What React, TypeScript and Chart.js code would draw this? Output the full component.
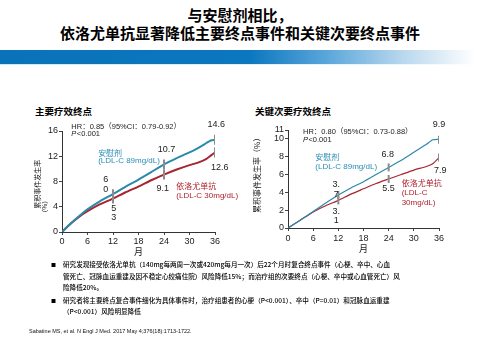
import { useEffect, useRef } from "react";
import { Chart, registerables } from "chart.js";
Chart.register(...registerables);

// ---------- data ----------
const monthsA = [0, 2, 4, 6, 9, 12, 15, 18, 21, 24, 27, 30, 32, 34, 35, 36];
const placeboA = [0, 1.3, 2.5, 3.6, 4.9, 6.0, 7.2, 8.3, 9.5, 10.7, 11.7, 12.6, 13.3, 14.1, 14.5, 14.6];
const evoloA = [0, 1.3, 2.4, 3.3, 4.4, 5.3, 6.3, 7.2, 8.2, 9.1, 9.9, 10.6, 11.0, 11.6, 12.1, 12.6];

const monthsB = [0, 3, 6, 9, 12, 15, 18, 21, 24, 27, 30, 33, 34.5, 36];
const placeboB = [0, 0.9, 1.85, 2.8, 3.7, 4.5, 5.2, 6.0, 6.8, 7.6, 8.5, 9.4, 9.9, 9.95];
const evoloB = [0, 0.9, 1.8, 2.5, 3.1, 3.8, 4.4, 5.0, 5.5, 6.0, 6.5, 6.9, 7.2, 7.9];

const markMonths = [12, 24, 36];
const markPlaceboA = [6.0, 10.7, 14.6];
const markEvoloA = [5.3, 9.1, 12.6];
const markPlaceboB = [3.7, 6.8, 9.9];
const markEvoloB = [3.1, 5.5, 7.9];

const xTicks = [0, 6, 12, 18, 24, 30, 36];
const yTicksA = [0, 2, 4, 6, 8, 10, 12, 14, 16];
const yTicksB = [0, 2, 4, 6, 8, 10, 11];

const TEAL = "#2b89aa";
const RED = "#a82530";
const TEAL_TXT = "#2a8db3";
const RED_TXT = "#ad1f2b";
const NARROW = '"Liberation Sans Narrow", "Liberation Sans", "Noto Sans CJK SC", sans-serif';
const CJK = '"Noto Sans CJK SC", "Liberation Sans", sans-serif';

type Ann = { x: number; y: number; text: string; color?: string; align?: CanvasTextAlign; size?: number; pre?: string };
type VTitle = { px: number; y: number; text: string; size: number };

const annsA: Ann[] = [
  { x: 2.2, y: 16.65, text: "HR：0.85（95%CI：0.79-0.92）", align: "left", size: 7.5 },
  { x: 2.2, y: 15.5, text: "<0.001", pre: "P", align: "left", size: 7.5 },
  { x: 36.3, y: 16.96, text: String(markPlaceboA[2]) },
  { x: 24.6, y: 13.0, text: String(markPlaceboA[1]) },
  { x: 37.1, y: 10.2, text: String(markEvoloA[2]) },
  { x: 23.7, y: 6.95, text: String(markEvoloA[1]) },
  { x: 10.3, y: 8.33, text: "6" },
  { x: 10.3, y: 6.74, text: "0" },
  { x: 12.2, y: 3.72, text: "5" },
  { x: 12.2, y: 2.29, text: "3" },
  { x: 8.5, y: 12.46, text: "安慰剂", color: TEAL_TXT, align: "left", size: 8 },
  { x: 8.5, y: 11.24, text: "(LDL-C 89mg/dL)", color: TEAL_TXT, align: "left", size: 8 },
  { x: 26.9, y: 7.15, text: "依洛尤单抗", color: RED_TXT, align: "left", size: 8 },
  { x: 26.9, y: 5.72, text: "(LDL-C 30mg/dL)", color: RED_TXT, align: "left", size: 8 },
];
const vTitlesA: VTitle[] = [
  { px: 17.5, y: 7.58, text: "累积事件发生率", size: 7 },
  { px: 25, y: 4.0, text: "（%）", size: 6.5 },
];

const annsB: Ann[] = [
  { x: 3.57, y: 10.82, text: "HR：0.80（95%CI：0.73-0.88）", align: "left", size: 7.5 },
  { x: 3.57, y: 9.89, text: "<0.001", pre: "P", align: "left", size: 7.5 },
  { x: 36.0, y: 11.65, text: String(markPlaceboB[2]) },
  { x: 23.8, y: 8.2, text: String(markPlaceboB[1]) },
  { x: 36.3, y: 6.42, text: String(markEvoloB[2]) },
  { x: 23.95, y: 4.48, text: String(markEvoloB[1]) },
  { x: 11.5, y: 4.85, text: "3." },
  { x: 11.5, y: 3.81, text: "7" },
  { x: 11.5, y: 1.86, text: "3." },
  { x: 11.5, y: 0.82, text: "1" },
  { x: 6.5, y: 7.84, text: "安慰剂", color: TEAL_TXT, align: "left", size: 8 },
  { x: 6.5, y: 6.9, text: "(LDL-C 89mg/dL)", color: TEAL_TXT, align: "left", size: 8 },
  { x: 27.1, y: 4.93, text: "依洛尤单抗", color: RED_TXT, align: "left", size: 8 },
  { x: 27.1, y: 3.92, text: "(LDL-C", color: RED_TXT, align: "left", size: 8 },
  { x: 27.1, y: 2.8, text: "30mg/dL)", color: RED_TXT, align: "left", size: 8 },
];
const vTitlesB: VTitle[] = [
  { px: 7, y: 6.14, text: "累积事件发生率（%）", size: 8 },
];

const annPlugin = {
  id: "anns",
  afterDatasetsDraw(chart: any, _args: any, opts: any) {
    const { ctx, scales } = chart;
    const items: Ann[] = opts.items || [];
    const vts: VTitle[] = opts.vtitles || [];
    ctx.save();
    ctx.textBaseline = "middle";
    for (const a of items) {
      const px = scales.x.getPixelForValue(a.x);
      const py = scales.y.getPixelForValue(a.y);
      const size = a.size ?? 9;
      ctx.fillStyle = a.color ?? "#222";
      ctx.textAlign = a.align ?? "center";
      let x = px;
      if (a.pre) {
        ctx.font = `italic ${size}px ${NARROW}`;
        ctx.textAlign = "left";
        ctx.fillText(a.pre, x, py);
        x += ctx.measureText(a.pre).width + 0.5;
      }
      ctx.font = `${size}px ${NARROW}`;
      ctx.fillText(a.text, x, py);
    }
    for (const t of vts) {
      const py = scales.y.getPixelForValue(t.y);
      ctx.save();
      ctx.translate(t.px, py);
      ctx.rotate(-Math.PI / 2);
      ctx.font = `${t.size}px ${CJK}`;
      ctx.fillStyle = "#222";
      ctx.textAlign = "center";
      ctx.fillText(t.text, 0, 0);
      ctx.restore();
    }
    ctx.restore();
  },
};

function pts(xs: number[], ys: number[]) {
  return xs.map((x, i) => ({ x, y: ys[i] }));
}

function makeConfig(p: {
  months: number[]; placebo: number[]; evolo: number[]; mp: number[]; me: number[];
  yTicks: number[]; yMax: number; lineW: number; markR: number;
  yW: number; xH: number; pad: any; xTitlePad: number; xTickPad: number; anns: Ann[]; vt: VTitle[];
}): any {
  const tickFont = { family: NARROW, size: 9 };
  return {
    type: "line",
    data: {
      datasets: [
        { data: pts(markMonths, p.mp), showLine: false, pointStyle: "line", rotation: 90, pointRadius: p.markR, borderColor: "#8c8c8c", pointBorderWidth: 2, borderWidth: 2 },
        { data: pts(markMonths, p.me), showLine: false, pointStyle: "line", rotation: 90, pointRadius: p.markR, borderColor: "#8c8c8c", pointBorderWidth: 2, borderWidth: 2 },
        { data: pts(p.months, p.placebo), borderColor: TEAL, borderWidth: p.lineW, pointRadius: 0, tension: 0.15 },
        { data: pts(p.months, p.evolo), borderColor: RED, borderWidth: p.lineW, pointRadius: 0, tension: 0.15 },
      ],
    },
    options: {
      responsive: false,
      animation: false,
      layout: { padding: p.pad },
      plugins: { legend: { display: false }, tooltip: { enabled: false }, anns: { items: p.anns, vtitles: p.vt } },
      scales: {
        x: {
          type: "linear", min: 0, max: 36,
          afterBuildTicks: (s: any) => { s.ticks = xTicks.map((v) => ({ value: v })); },
          afterFit: (s: any) => { s.height = p.xH; },
          ticks: { font: tickFont, color: "#222", padding: p.xTickPad, maxRotation: 0 },
          grid: { display: true, drawOnChartArea: false, drawTicks: true, tickLength: 3, color: "#444" },
          border: { display: true, color: "#333", width: 1 },
          title: { display: true, text: "月", font: { family: CJK, size: 9, lineHeight: 1 }, color: "#222", padding: { top: 0, bottom: p.xTitlePad } },
        },
        y: {
          type: "linear", min: 0, max: p.yMax,
          afterBuildTicks: (s: any) => { s.ticks = p.yTicks.map((v) => ({ value: v })); },
          afterFit: (s: any) => { s.width = p.yW; },
          ticks: { font: tickFont, color: "#222", padding: 1 },
          grid: { display: true, drawOnChartArea: false, drawTicks: true, tickLength: 3, color: "#444" },
          border: { display: true, color: "#333", width: 1 },
        },
      },
    },
    plugins: [annPlugin],
  };
}

function KMChart(props: { cfg: any; left: number; top: number; w: number; h: number }) {
  const ref = useRef<HTMLCanvasElement>(null);
  useEffect(() => {
    if (!ref.current) return;
    const c = new Chart(ref.current, props.cfg);
    return () => c.destroy();
  }, []);
  return (
    <canvas ref={ref} width={props.w} height={props.h}
      style={{ position: "absolute", left: props.left, top: props.top, width: props.w, height: props.h }} />
  );
}

const cfgA = makeConfig({
  months: monthsA, placebo: placeboA, evolo: evoloA, mp: markPlaceboA, me: markEvoloA,
  yTicks: yTicksA, yMax: 16, lineW: 2, markR: 5, yW: 42, xH: 28,
  pad: { left: 0, top: 21, right: 25, bottom: 0 },
  xTitlePad: 3.5, xTickPad: 1, anns: annsA, vt: vTitlesA,
});

const cfgB = makeConfig({
  months: monthsB, placebo: placeboB, evolo: evoloB, mp: markPlaceboB, me: markEvoloB,
  yTicks: yTicksB, yMax: 11, lineW: 1.2, markR: 4, yW: 38, xH: 32,
  pad: { left: 0, top: 20, right: 31, bottom: 0 },
  xTitlePad: 6.5, xTickPad: 2.5, anns: annsB, vt: vTitlesB,
});

const bulletLines: { y: number; text: string; bullet?: boolean }[] = [
  { y: 264, text: "研究发现接受依洛尤单抗（140mg每两周一次或420mg每月一次）后22个月时复合终点事件（心梗、卒中、心血", bullet: true },
  { y: 276, text: "管死亡、冠脉血运重建及因不稳定心绞痛住院）风险降低15%；而治疗组的次要终点（心梗、卒中或心血管死亡）风" },
  { y: 287, text: "险降低20%。" },
  { y: 300, text: "研究者将主要终点复合事件细化为具体事件时，治疗组患者的心梗（P<0.001）、卒中（P=0.01）和冠脉血运重建", bullet: true },
  { y: 311, text: "（P<0.001）风险明显降低" },
];

export default function App() {
  return (
    <div style={{ position: "absolute", left: 0, top: 0, width: 480, height: 360, background: "#fff", overflow: "hidden", fontFamily: CJK, color: "#000" }}>
      <div style={{ position: "absolute", left: 0, top: 6, width: 480, textAlign: "center", fontSize: 15, lineHeight: "18px", fontWeight: 700 }}>
        与安慰剂相比，<br />依洛尤单抗显著降低主要终点事件和关键次要终点事件
      </div>
      <div style={{ position: "absolute", left: 0, top: 50, width: 480, height: 14, background: "linear-gradient(to right, #0a72b9 0%, #0b77bf 52%, #5aa6da 68%, #b9d8ee 84%, #ffffff 99%)" }} />
      <div style={{ position: "absolute", left: 0, top: 64, width: 480, height: 1, background: "linear-gradient(to right, #c5ecfa 0%, #e8f6fc 80%, #ffffff 100%)" }} />
      <div style={{ position: "absolute", left: 35, top: 105, fontSize: 9.5, lineHeight: "12px", fontWeight: 700, whiteSpace: "nowrap" }}>主要疗效终点</div>
      <div style={{ position: "absolute", left: 255, top: 105, fontSize: 9.5, lineHeight: "12px", fontWeight: 700, whiteSpace: "nowrap" }}>关键次要疗效终点</div>
      <KMChart cfg={cfgA} left={20} top={110} w={220} h={150} />
      <KMChart cfg={cfgB} left={250} top={110} w={220} h={150} />
      {bulletLines.map((l, i) => (
        <div key={i}>
          {l.bullet && (
            <div style={{ position: "absolute", left: 51, top: l.y - 5, fontSize: 5, lineHeight: "10px" }}>■</div>
          )}
          <div style={{ position: "absolute", left: 63, top: l.y - 5, fontSize: 6.6, lineHeight: "10px", whiteSpace: "nowrap", color: "#000", fontWeight: 500 }}>{l.text}</div>
        </div>
      ))}
      <div style={{ position: "absolute", left: 29, top: 328, fontSize: 5.5, lineHeight: "7px", whiteSpace: "nowrap", fontFamily: '"Liberation Sans", sans-serif', color: "#111" }}>
        Sabatine MS, et al. N Engl J Med. 2017 May 4;376(18):1713-1722.
      </div>
    </div>
  );
}
